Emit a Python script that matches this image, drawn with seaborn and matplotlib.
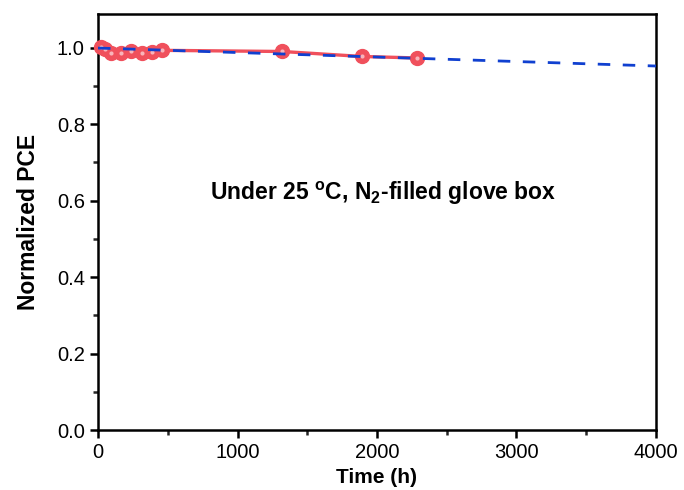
import matplotlib
matplotlib.use("Agg")
import matplotlib.pyplot as plt
import seaborn as sns
import pandas as pd
from matplotlib.ticker import MultipleLocator

time_h = [24, 48, 96, 168, 240, 312, 384, 456, 1320, 1890, 2290]
pce_norm = [1.003, 0.996, 0.985, 0.987, 0.991, 0.985, 0.988, 0.993, 0.990, 0.977, 0.973]
fit_time = [0, 4000]
fit_pce = [0.999, 0.952]

sns.set_theme(style="ticks")
plt.rcParams['font.family'] = ['Liberation Sans', 'DejaVu Sans']
plt.rcParams['mathtext.fontset'] = 'custom'
plt.rcParams['mathtext.rm'] = 'Liberation Sans:bold'
plt.rcParams['mathtext.default'] = 'rm'
plt.rcParams['text.color'] = 'black'
plt.rcParams['axes.labelcolor'] = 'black'

df = pd.DataFrame({"t": time_h, "p": pce_norm})
dfit = pd.DataFrame({"t": fit_time, "p": fit_pce})

fig, ax = plt.subplots(figsize=(6.84, 4.9), dpi=100)
fig.subplots_adjust(left=0.1433, right=0.959, top=0.9714, bottom=0.1224)

red = "#F0505C"
sns.lineplot(data=df, x="t", y="p", ax=ax, color=red, linewidth=2.4,
             marker="o", markersize=10, markeredgecolor=red,
             markerfacecolor=red, markeredgewidth=1.0, zorder=3, clip_on=False)
ax.plot(time_h, pce_norm, linestyle="none", marker="o", markersize=3,
        markerfacecolor="#F9B4BA", markeredgewidth=0, zorder=4, clip_on=False)
sns.lineplot(data=dfit, x="t", y="p", ax=ax, color="#1040D0", linewidth=2.0,
             linestyle=(0, (4.5, 4.5)), zorder=5)

ax.set_xlim(0, 4000)
ax.set_ylim(0, 1.088)
ax.xaxis.set_major_locator(MultipleLocator(1000))
ax.xaxis.set_minor_locator(MultipleLocator(500))
ax.yaxis.set_major_locator(MultipleLocator(0.2))
ax.yaxis.set_minor_locator(MultipleLocator(0.1))
ax.yaxis.set_major_formatter(matplotlib.ticker.FormatStrFormatter('%.1f'))

for s in ax.spines.values():
    s.set_linewidth(1.8)
    s.set_color("black")
ax.tick_params(which="major", direction="out", length=6, width=1.8,
               labelsize=14.5, colors="black", top=False, right=False)
ax.tick_params(which="minor", direction="out", length=3.5, width=1.8,
               top=False, right=False)

ax.set_xlabel("Time (h)", fontsize=15, fontweight="bold", labelpad=4)
ax.set_ylabel("Normalized PCE", fontsize=16.5, fontweight="bold", labelpad=12)

ax.text(2043, 0.62, r"Under 25 $^{o}$C, N$_{2}$-filled glove box",
        ha="center", va="center", fontsize=16.5, fontweight="bold")

fig.savefig("out.png", dpi=100)
